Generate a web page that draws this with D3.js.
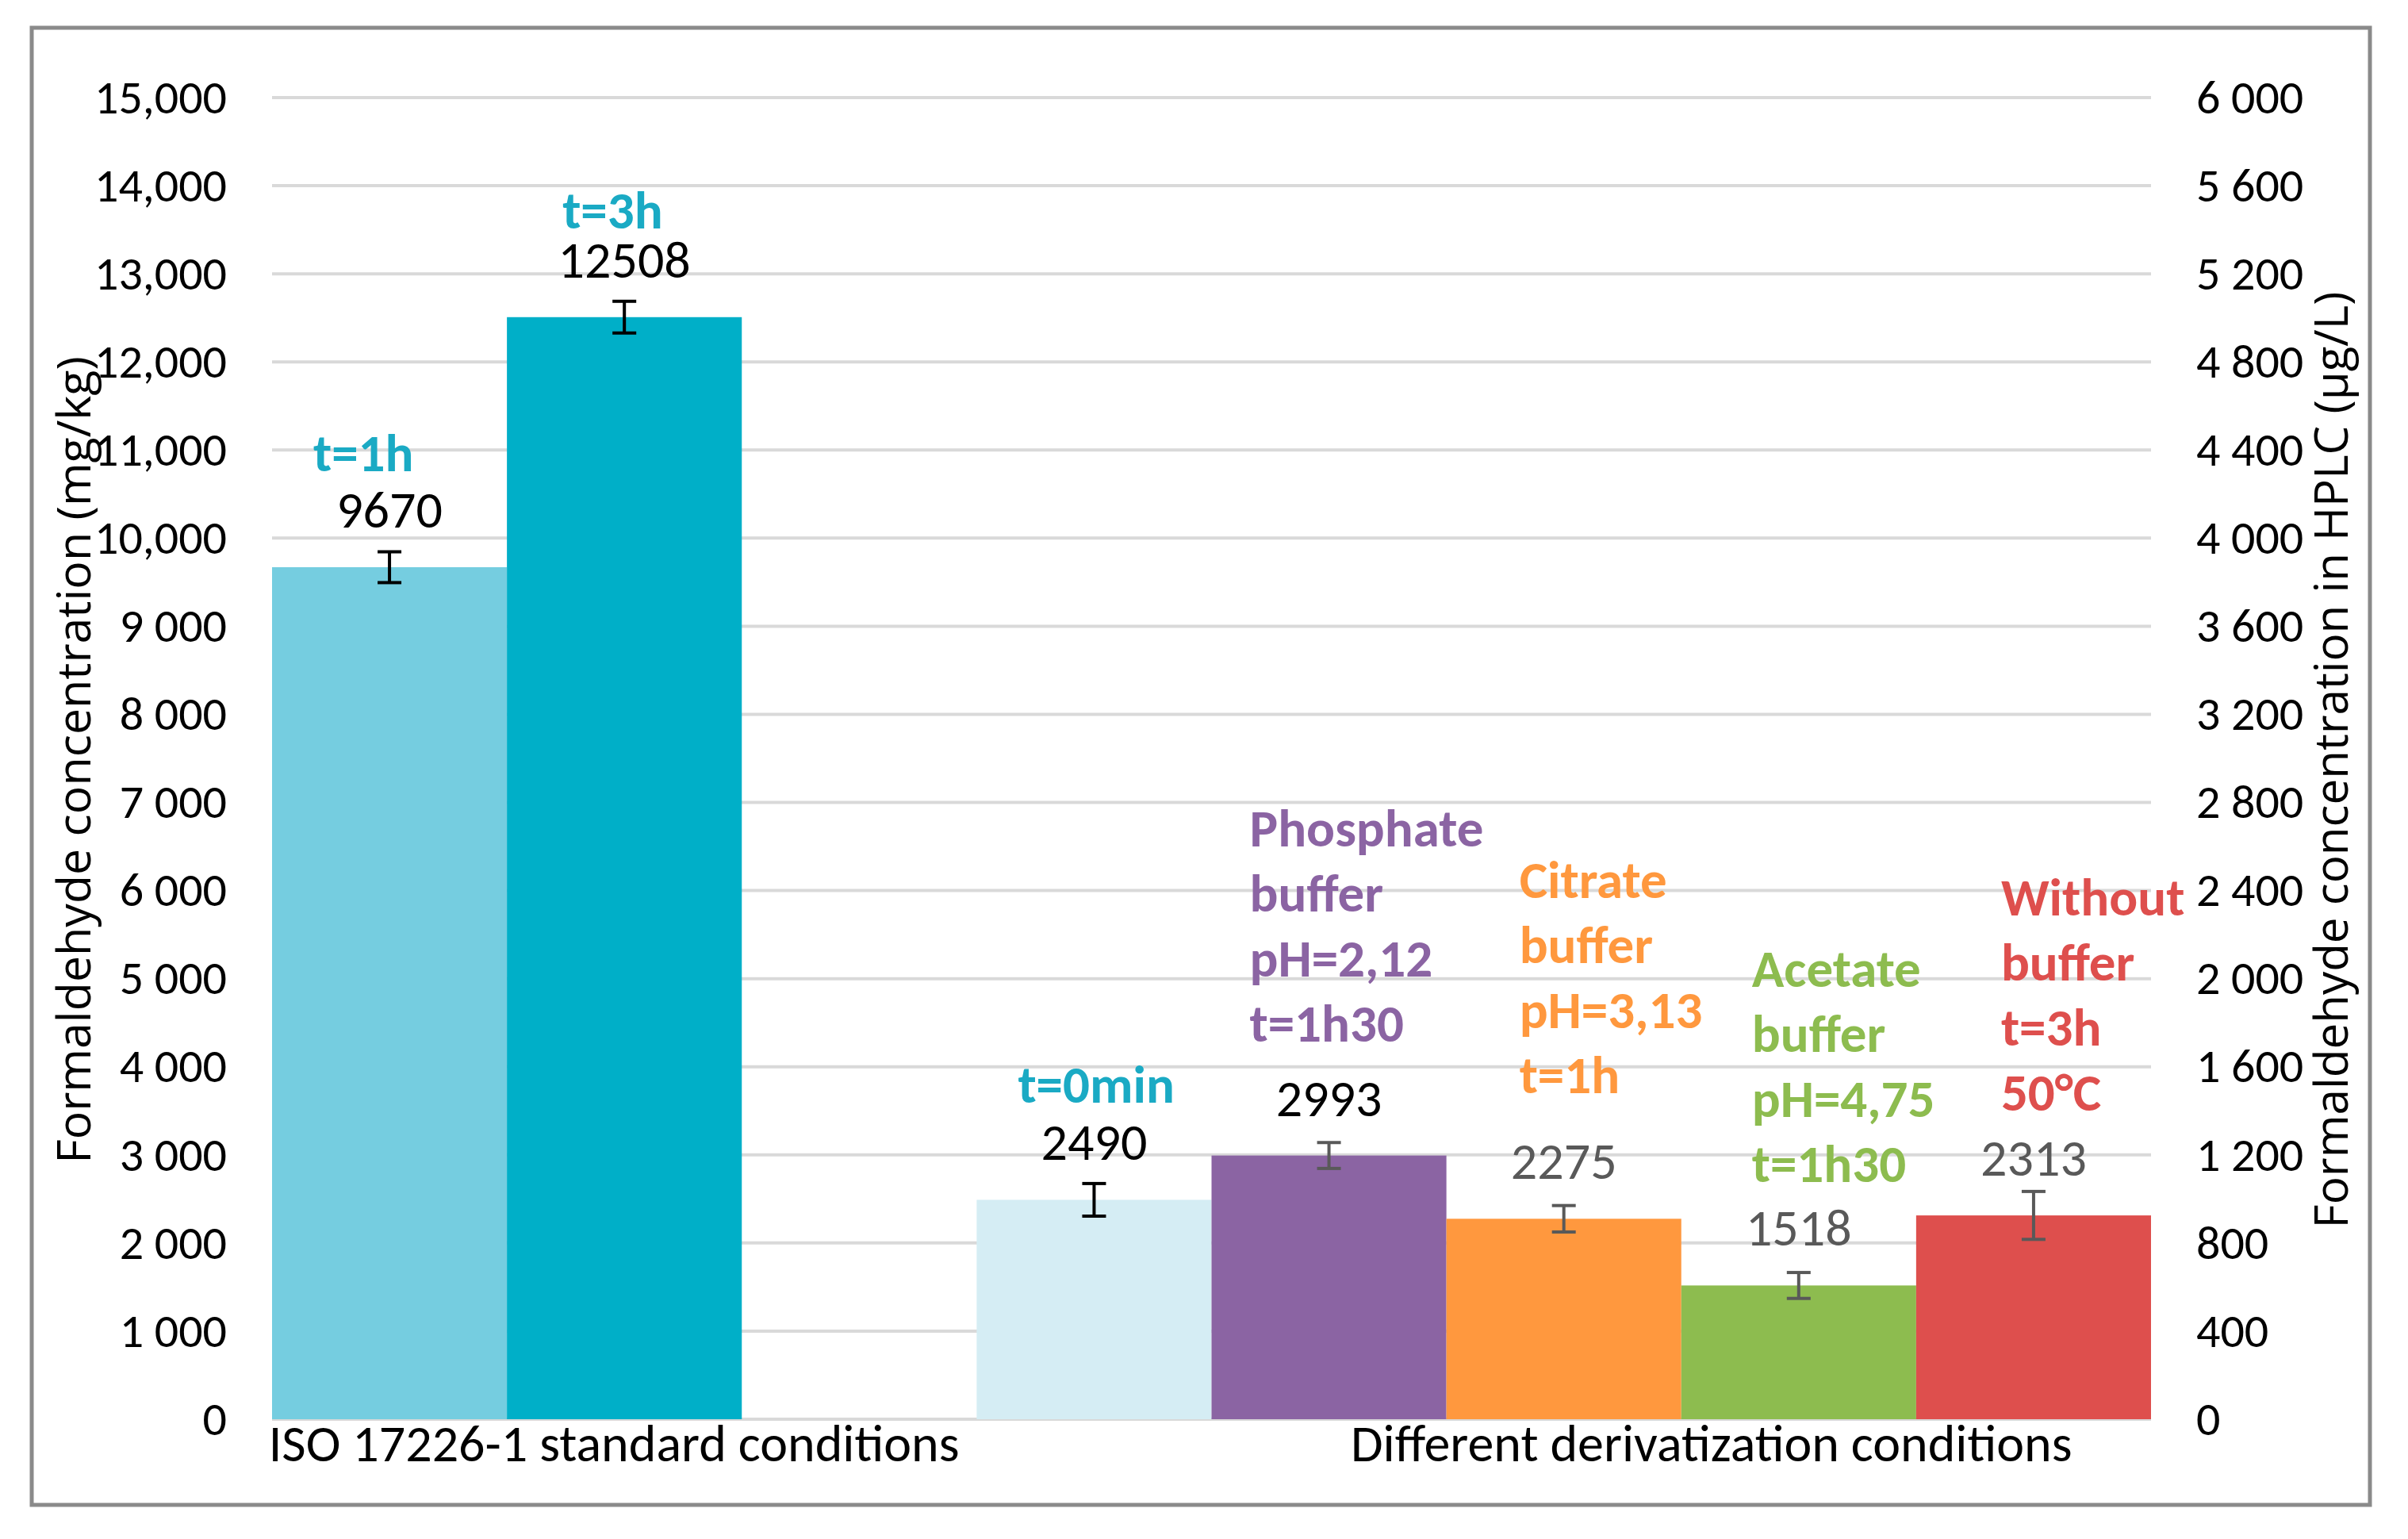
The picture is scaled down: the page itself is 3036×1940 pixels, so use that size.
<!DOCTYPE html>
<html>
<head>
<meta charset="utf-8">
<script src="https://cdn.jsdelivr.net/npm/d3@7"></script>
<style>
  html, body { margin: 0; padding: 0; background: #ffffff; }
  svg { display: block; }
</style>
</head>
<body>
<svg id="chart" width="3036" height="1940"></svg>
<script>
// ---------------- DATA ----------------
const slots = ["ISO t=1h", "ISO t=3h", "", "t=0min", "Phosphate buffer", "Citrate buffer", "Acetate buffer", "Without buffer"];
const values = [9670, 12508, null, 2490, 2993, 2275, 1518, 2313];
const errors = [175, 180, null, 185, 147, 150, 147, 272];
const annotations = [
  ["t=1h"],
  ["t=3h"],
  null,
  ["t=0min"],
  ["Phosphate", "buffer", "pH=2,12", "t=1h30"],
  ["Citrate", "buffer", "pH=3,13", "t=1h"],
  ["Acetate", "buffer", "pH=4,75", "t=1h30"],
  ["Without", "buffer", "t=3h", "50°C"]
];
const groupLabels = ["ISO 17226-1 standard conditions", "Different derivatization conditions"];
const leftTicks = [0, 1000, 2000, 3000, 4000, 5000, 6000, 7000, 8000, 9000, 10000, 11000, 12000, 13000, 14000, 15000];
const leftTickLabels = ["0", "1 000", "2 000", "3 000", "4 000", "5 000", "6 000", "7 000", "8 000", "9 000", "10,000", "11,000", "12,000", "13,000", "14,000", "15,000"];
const rightTicks = [0, 400, 800, 1200, 1600, 2000, 2400, 2800, 3200, 3600, 4000, 4400, 4800, 5200, 5600, 6000];
const rightTickLabels = ["0", "400", "800", "1 200", "1 600", "2 000", "2 400", "2 800", "3 200", "3 600", "4 000", "4 400", "4 800", "5 200", "5 600", "6 000"];
const leftTitle = "Formaldehyde concentration (mg/kg)";
const rightTitle = "Formaldehyde concentration in HPLC (µg/L)";

// ---------------- STYLES ----------------
const barColors = ["#75CDE0", "#00AFC8", null, "#D5EDF4", "#8B64A3", "#FF983E", "#8DBC4F", "#DE4F4D"];
const annoColors = ["#1AAAC4", "#1AAAC4", null, "#1AAAC4", "#8B64A3", "#FF983E", "#8DBC4F", "#DE4F4D"];
const labelColors = ["#000000", "#000000", null, "#000000", "#000000", "#595959", "#595959", "#595959"];
const errColors = ["#000000", "#000000", null, "#000000", "#595959", "#595959", "#595959", "#595959"];
const FONT = "Carlito, 'Liberation Sans Narrow', 'DejaVu Sans Condensed', 'Liberation Sans', sans-serif";
const TITLE_FONT = "'Open Sans', 'DejaVu Sans', sans-serif";

// ---------------- LAYOUT ----------------
const svg = d3.select("#chart");
const plot = { left: 343, right: 2712, top: 123, bottom: 1789 };

svg.append("rect").attr("x", 0).attr("y", 0).attr("width", 3036).attr("height", 1940).attr("fill", "#fff");
svg.append("rect").attr("x", 40).attr("y", 35).attr("width", 2948).attr("height", 1862)
  .attr("fill", "none").attr("stroke", "#8A8A8A").attr("stroke-width", 5);

const x = d3.scaleBand().domain(d3.range(slots.length)).range([plot.left, plot.right]).padding(0);
const y = d3.scaleLinear().domain([0, 15000]).range([plot.bottom, plot.top]);
const yR = d3.scaleLinear().domain([0, 6000]).range([plot.bottom, plot.top]);

// gridlines
svg.append("g").selectAll("line").data(leftTicks).join("line")
  .attr("x1", plot.left).attr("x2", plot.right)
  .attr("y1", d => y(d)).attr("y2", d => y(d))
  .attr("stroke", "#D9D9D9").attr("stroke-width", 4);

// left axis labels
const leftAxis = d3.axisLeft(y).tickValues(leftTicks).tickFormat((d, i) => leftTickLabels[i]).tickSize(0).tickPadding(0);
const gL = svg.append("g").attr("transform", `translate(${plot.left - 57},0)`).call(leftAxis);
gL.select(".domain").remove();
gL.selectAll("text").attr("font-family", FONT).attr("font-size", 60).attr("fill", "#000").attr("dy", "0.32em");

// right axis labels
const rightAxis = d3.axisRight(yR).tickValues(rightTicks).tickFormat((d, i) => rightTickLabels[i]).tickSize(0).tickPadding(0);
const gR = svg.append("g").attr("transform", `translate(${plot.right + 57},0)`).call(rightAxis);
gR.select(".domain").remove();
gR.selectAll("text").attr("font-family", FONT).attr("font-size", 60).attr("fill", "#000").attr("dy", "0.32em");

// bars
const idx = d3.range(slots.length).filter(i => values[i] !== null);
svg.append("g").selectAll("rect").data(idx).join("rect")
  .attr("x", i => x(i)).attr("width", x.bandwidth())
  .attr("y", i => y(values[i])).attr("height", i => y(0) - y(values[i]))
  .attr("fill", i => barColors[i]);

// error bars
const eg = svg.append("g");
idx.forEach(i => {
  const cx = x(i) + x.bandwidth() / 2;
  const y1 = y(values[i] + errors[i]), y2 = y(values[i] - errors[i]);
  const c = errColors[i];
  eg.append("line").attr("x1", cx).attr("x2", cx).attr("y1", y1).attr("y2", y2).attr("stroke", c).attr("stroke-width", 4);
  eg.append("line").attr("x1", cx - 15).attr("x2", cx + 15).attr("y1", y1).attr("y2", y1).attr("stroke", c).attr("stroke-width", 4);
  eg.append("line").attr("x1", cx - 15).attr("x2", cx + 15).attr("y1", y2).attr("y2", y2).attr("stroke", c).attr("stroke-width", 4);
});

// data labels
const LABEL_GAP = 50;
svg.append("g").selectAll("text").data(idx).join("text")
  .attr("x", i => x(i) + x.bandwidth() / 2)
  .attr("y", i => y(values[i]) - LABEL_GAP)
  .attr("text-anchor", "middle")
  .attr("font-family", FONT).attr("font-size", 66)
  .attr("fill", i => labelColors[i])
  .text(i => values[i]);

// coloured annotations (text boxes)
const annoDx = [52, 70, 0, 52, 48, 92, 89, 107];
const annoDy = [-71, -62, 0, -72, -94, -108, -80, -82];
const lineH = 82;
const ag = svg.append("g");
idx.forEach(i => {
  const lines = annotations[i];
  const lastBase = y(values[i]) - LABEL_GAP + annoDy[i];
  const t = ag.append("text")
    .attr("font-family", FONT).attr("font-weight", "bold").attr("font-size", 67)
    .attr("fill", annoColors[i]);
  lines.forEach((ln, k) => {
    t.append("tspan").attr("x", x(i) + annoDx[i])
      .attr("y", lastBase - (lines.length - 1 - k) * lineH)
      .text(ln);
  });
});

// group labels
svg.append("text").attr("x", x(1) + 135).attr("y", 1842).attr("text-anchor", "middle")
  .attr("font-family", FONT).attr("font-size", 66).attr("fill", "#000").text(groupLabels[0]);
svg.append("text").attr("x", x(6) + 38).attr("y", 1842).attr("text-anchor", "middle")
  .attr("font-family", FONT).attr("font-size", 66).attr("fill", "#000").text(groupLabels[1]);

// axis titles
function fitTitle(sel, target) {
  const len = sel.node().getComputedTextLength();
  const fs = 50 * target / len;
  sel.attr("font-size", fs);
}
const lt = svg.append("text").attr("transform", "translate(93,958) rotate(-90)")
  .attr("text-anchor", "middle").attr("dy", "0.35em")
  .attr("font-family", TITLE_FONT).attr("font-size", 50).attr("fill", "#000").text(leftTitle);
fitTitle(lt, 1018);
const rt = svg.append("text").attr("transform", "translate(2940,958) rotate(-90)")
  .attr("text-anchor", "middle").attr("dy", "0.35em")
  .attr("font-family", TITLE_FONT).attr("font-size", 50).attr("fill", "#000").text(rightTitle);
fitTitle(rt, 1181);
</script>
</body>
</html>
